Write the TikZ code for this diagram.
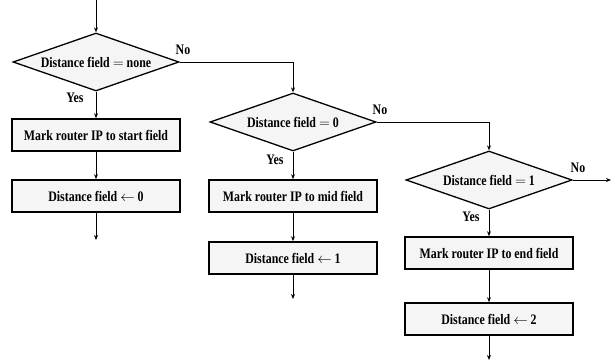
\documentclass[tikz,border=0pt]{standalone}
\usepackage{fontspec}
\setmainfont{Liberation Serif}[FakeStretch=0.82]
\usetikzlibrary{shapes.geometric,arrows.meta}

\begin{document}
\begin{tikzpicture}[x=1pt,y=-1pt,
  every node/.style={font=\bfseries\fontsize{14.5}{16}\selectfont},
  decision/.style={diamond, draw, line width=1.3pt, fill=black!4,
    minimum width=166pt, minimum height=58pt, inner sep=0pt, aspect=2.86},
  action/.style={rectangle, draw, line width=1.6pt, fill=black!4,
    minimum width=168pt, minimum height=32pt, inner sep=0pt},
  flow/.style={line width=0.9pt, -{Stealth[length=5pt,width=4pt]}},
  tag/.style={inner sep=0pt}]
\useasboundingbox (0,0) rectangle (614,361);

% first test: distance field empty
\coordinate (in) at (96,0);
\node[decision] (d1) at (96,62) {Distance field $=$ none};
\node[action] (a1) at (96,135) {Mark router IP to start field};
\node[action] (b1) at (96,196) {Distance field $\leftarrow$ 0};
\coordinate (e1) at (96,240);

% second test: distance field zero
\node[decision] (d2) at (293,122) {Distance field $=$ 0};
\node[action] (a2) at (293,196) {Mark router IP to mid field};
\node[action] (b2) at (293,258) {Distance field $\leftarrow$ 1};
\coordinate (e2) at (293,299);

% third test: distance field one
\node[decision] (d3) at (489,180) {Distance field $=$ 1};
\node[action] (a3) at (489,253) {Mark router IP to end field};
\node[action] (b3) at (489,319) {Distance field $\leftarrow$ 2};
\coordinate (e3) at (489,360);
\coordinate (out) at (611,180);

% connectors
\draw[flow] (in) -- (d1.north);
\draw[flow] (d1.south) -- (a1);
\draw[flow] (a1) -- (b1);
\draw[flow] (b1) -- (e1);
\draw[flow] (d1.east) -| (d2.north);

\draw[flow] (d2.south) -- (a2);
\draw[flow] (a2) -- (b2);
\draw[flow] (b2) -- (e2);
\draw[flow] (d2.east) -| (d3.north);

\draw[flow] (d3.south) -- (a3);
\draw[flow] (a3) -- (b3);
\draw[flow] (b3) -- (e3);
\draw[flow] (d3.east) -- (out);

% branch labels
\node[tag] (no1) at (183,50) {No};
\node[tag] (yes1) at (75,98) {Yes};
\node[tag] (no2) at (380,110) {No};
\node[tag] (yes2) at (275,160) {Yes};
\node[tag] (no3) at (578,168) {No};
\node[tag] (yes3) at (471,217) {Yes};
\end{tikzpicture}
\end{document}
